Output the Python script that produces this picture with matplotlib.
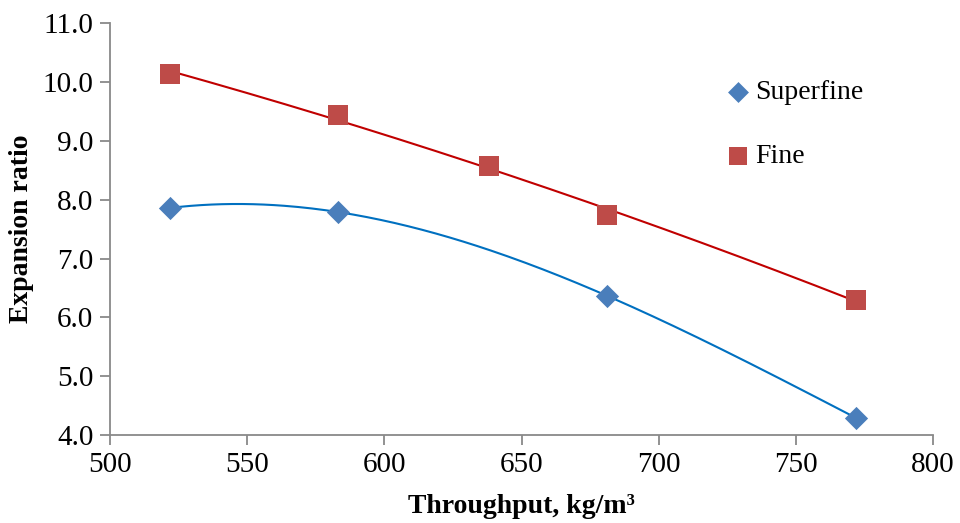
import matplotlib
matplotlib.use('Agg')
import matplotlib.pyplot as plt
import numpy as np

plt.rcParams['font.family'] = ['Liberation Serif', 'DejaVu Serif']

superfine_x = [522, 583, 681, 772]
superfine_y = [7.86, 7.79, 6.37, 4.29]
fine_x = [522, 583, 638, 681, 772]
fine_y = [10.14, 9.43, 8.57, 7.74, 6.30]

BLUE = '#4a7ebb'
BLUE_LINE = '#0070c0'
RED = '#be4b48'
RED_LINE = '#c00000'
GRAY = '#898989'

fig = plt.figure(figsize=(9.6, 5.23), dpi=100)
ax = fig.add_axes([0.1146, 0.168, 0.8574, 0.788])

# polynomial trend lines, like the spreadsheet trendline
for xs, ys, col, order in [(superfine_x, superfine_y, BLUE_LINE, 3),
                           (fine_x, fine_y, RED_LINE, 2)]:
    coef = np.polyfit(xs, ys, order)
    xx = np.linspace(min(xs), max(xs), 200)
    ax.plot(xx, np.polyval(coef, xx), color=col, lw=1.5, zorder=2)

ax.scatter(superfine_x, superfine_y, marker='D', s=140, color=BLUE,
           label='Superfine', zorder=3, linewidths=0)
ax.scatter(fine_x, fine_y, marker='s', s=200, color=RED,
           label='Fine', zorder=3, linewidths=0)

ax.set_xlim(500, 800)
ax.set_ylim(4.0, 11.0)
ax.set_xticks(np.arange(500, 801, 50))
ax.set_yticks(np.arange(4.0, 11.01, 1.0))
ax.set_yticklabels(['%.1f' % v for v in np.arange(4.0, 11.01, 1.0)])

for side in ['top', 'right']:
    ax.spines[side].set_visible(False)
for side in ['left', 'bottom']:
    ax.spines[side].set_color(GRAY)
    ax.spines[side].set_linewidth(1.3)
ax.tick_params(direction='out', length=7, width=1.3, color=GRAY,
               labelsize=21, pad=5)

ax.set_xlabel('Throughput, kg/m³', fontsize=20, fontweight='bold', labelpad=12)
ax.set_ylabel('Expansion ratio', fontsize=20, fontweight='bold', labelpad=6)

ax.legend(loc='upper left', bbox_to_anchor=(0.736, 0.89), frameon=False,
          fontsize=20, labelspacing=1.4, handlelength=0.8, handletextpad=0.2,
          markerscale=0.9, borderaxespad=0)

fig.savefig('out.png', dpi=100)
